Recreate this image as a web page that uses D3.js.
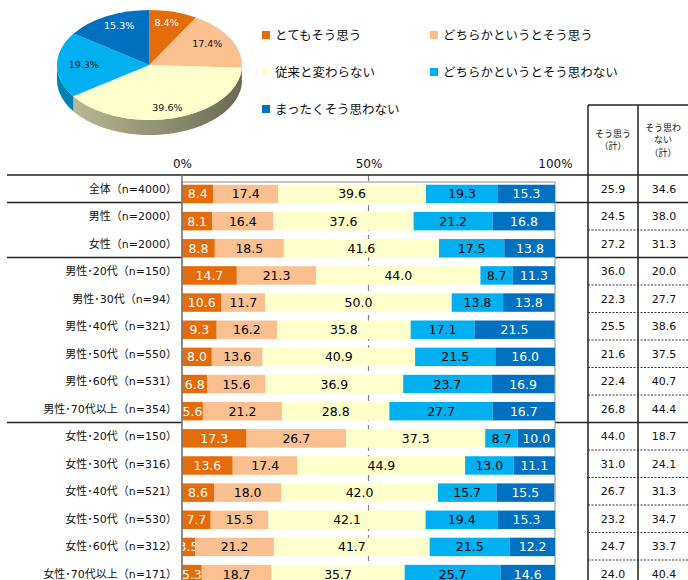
<!DOCTYPE html>
<html>
<head>
<meta charset="utf-8">
<script src="https://cdn.jsdelivr.net/npm/d3@7"></script>
<style>
  body { margin: 0; background: #fff; }
  svg { display: block; }
</style>
</head>
<body>
<script>
// row labels (top to bottom)
var rows = ["全体（n=4000）", "男性（n=2000）", "女性（n=2000）",
  "男性･20代（n=150）", "男性･30代（n=94）", "男性･40代（n=321）", "男性･50代（n=550）", "男性･60代（n=531）", "男性･70代以上（n=354）",
  "女性･20代（n=150）", "女性･30代（n=316）", "女性･40代（n=521）", "女性･50代（n=530）", "女性･60代（n=312）", "女性･70代以上（n=171）"];

var seriesNames = ["とてもそう思う", "どちらかというとそう思う", "従来と変わらない", "どちらかというとそう思わない", "まったくそう思わない"];
var veryAgree      = [8.4, 8.1, 8.8, 14.7, 10.6, 9.3, 8.0, 6.8, 5.6, 17.3, 13.6, 8.6, 7.7, 3.5, 5.3];
var ratherAgree    = [17.4, 16.4, 18.5, 21.3, 11.7, 16.2, 13.6, 15.6, 21.2, 26.7, 17.4, 18.0, 15.5, 21.2, 18.7];
var noChange       = [39.6, 37.6, 41.6, 44.0, 50.0, 35.8, 40.9, 36.9, 28.8, 37.3, 44.9, 42.0, 42.1, 41.7, 35.7];
var ratherDisagree = [19.3, 21.2, 17.5, 8.7, 13.8, 17.1, 21.5, 23.7, 27.7, 8.7, 13.0, 15.7, 19.4, 21.5, 25.7];
var notAtAll       = [15.3, 16.8, 13.8, 11.3, 13.8, 21.5, 16.0, 16.9, 16.7, 10.0, 11.1, 15.5, 15.3, 12.2, 14.6];

// right-hand table
var agreeTotal    = [25.9, 24.5, 27.2, 36.0, 22.3, 25.5, 21.6, 22.4, 26.8, 44.0, 31.0, 26.7, 23.2, 24.7, 24.0];
var disagreeTotal = [34.6, 38.0, 31.3, 20.0, 27.7, 38.6, 37.5, 40.7, 44.4, 18.7, 24.1, 31.3, 34.7, 33.7, 40.4];

// pie (全体)
var pieValues = [8.4, 17.4, 39.6, 19.3, 15.3];
var tickValues = [0, 50, 100];
var groupStarts = [1, 3, 9]; // rows that begin a new block

var colors = ["#E46C0A", "#FAC090", "#FFFFCC", "#00B0F0", "#0070C0"];
var textColors = ["#fff", "#000", "#000", "#000", "#fff"];
var FONT = '"DejaVu Sans", "Noto Sans CJK JP", sans-serif';

var width = 688, height = 580;
var svg = d3.select("body").append("svg")
    .attr("width", width)
    .attr("height", height)
    .style("font-family", FONT);

var defs = svg.append("defs");

// ---------- pie ----------
var cx = 149.5, cy = 65, rx = 92.5, ry = 55, depth = 15;
var pie = d3.pie().sort(null).value(function(d) { return d; });
var arcs = pie(pieValues);

var shade = defs.append("linearGradient").attr("id", "sideShade")
    .attr("gradientUnits", "userSpaceOnUse")
    .attr("x1", cx - rx).attr("x2", cx + rx).attr("y1", 0).attr("y2", 0);
shade.append("stop").attr("offset", "0%").attr("stop-color", "#000").attr("stop-opacity", 0);
shade.append("stop").attr("offset", "100%").attr("stop-color", "#000").attr("stop-opacity", 0.45);

function ellPoint(a, off) {
  return [cx + rx * Math.sin(a), cy - ry * Math.cos(a) + off];
}

var sideLine = d3.line();
arcs.forEach(function(d, i) {
  var s = Math.max(d.startAngle, Math.PI / 2), e = Math.min(d.endAngle, Math.PI * 3 / 2);
  if (e <= s) return;
  var angles = d3.range(s, e, 0.02).concat([e]);
  var pts = angles.map(function(a) { return ellPoint(a, 0); })
    .concat(angles.slice().reverse().map(function(a) { return ellPoint(a, depth); }));
  svg.append("path").attr("d", sideLine(pts) + "Z")
    .attr("fill", d3.color(colors[i]).darker(0.8));
  svg.append("path").attr("d", sideLine(pts) + "Z")
    .attr("fill", "url(#sideShade)");
});

var arc = d3.arc().innerRadius(0).outerRadius(rx);
svg.append("g")
    .attr("transform", "translate(" + cx + "," + cy + ") scale(1," + (ry / rx) + ")")
  .selectAll("path")
  .data(arcs)
  .enter().append("path")
    .attr("d", arc)
    .attr("fill", function(d, i) { return colors[i]; });

svg.selectAll(".pielabel")
  .data(arcs)
  .enter().append("text")
    .attr("class", "pielabel")
    .attr("x", function(d) { var m = (d.startAngle + d.endAngle) / 2; return cx + 0.71 * rx * Math.sin(m); })
    .attr("y", function(d) { var m = (d.startAngle + d.endAngle) / 2; return cy - 0.8 * ry * Math.cos(m); })
    .attr("dy", "0.35em")
    .attr("text-anchor", "middle")
    .attr("font-size", 9.5)
    .attr("fill", function(d, i) { return i == 0 || i == 4 ? "#fff" : "#111"; })
    .text(function(d) { return d.data.toFixed(1) + "%"; });

// ---------- legend ----------
var legend = svg.selectAll(".legend")
  .data(seriesNames)
  .enter().append("g")
    .attr("class", "legend")
    .attr("transform", function(d, i) {
      return "translate(" + (262 + (i % 2) * 168) + "," + (35 + Math.floor(i / 2) * 37) + ")";
    });
legend.append("rect")
    .attr("x", 0).attr("y", -4).attr("width", 8).attr("height", 8)
    .attr("fill", function(d, i) { return colors[i]; });
legend.append("text")
    .attr("x", 13).attr("dy", "0.36em")
    .attr("font-size", 12.5)
    .attr("font-family", '"Noto Sans CJK JP", sans-serif')
    .attr("fill", "#111")
    .text(function(d) { return d; });

// ---------- scales ----------
var x = d3.scaleLinear().domain([0, 100]).range([182, 555]);
var yBar = d3.scaleBand().domain(rows).range([180.4, 180.4 + 15 * 27.15]).paddingInner(0.32).paddingOuter(0.16);
var yCell = d3.scaleBand().domain(rows).range([175, 175 + 15 * 27.5]);

// separators (behind plot area)
groupStarts.forEach(function(r) {
  var yy = yCell(rows[r]);
  svg.append("line").attr("x1", 7).attr("x2", 182).attr("y1", yy).attr("y2", yy)
    .attr("stroke", "#222").attr("stroke-width", 1.5);
  svg.append("line").attr("x1", 555).attr("x2", 688).attr("y1", yy).attr("y2", yy)
    .attr("stroke", "#222").attr("stroke-width", 1.5);
});
rows.forEach(function(r, i) {
  if (i == 0 || groupStarts.indexOf(i) >= 0) return;
  var yy = yCell(r);
  svg.append("line").attr("x1", 588).attr("x2", 688).attr("y1", yy).attr("y2", yy)
    .attr("stroke", "#333").attr("stroke-width", 1).attr("stroke-dasharray", "2,1.5");
});

// plot area
svg.append("rect")
    .attr("x", x(0)).attr("y", 182).attr("width", x(100) - x(0)).attr("height", height - 182)
    .attr("fill", "#fff").attr("stroke", "#8c8c8c").attr("stroke-width", 1);

svg.append("line")
    .attr("x1", x(50)).attr("x2", x(50)).attr("y1", 175).attr("y2", height)
    .attr("stroke", "#808080").attr("stroke-width", 1.2).attr("stroke-dasharray", "6,4");

// top line across the whole chart
svg.append("line").attr("x1", 7).attr("x2", 688).attr("y1", 175).attr("y2", 175)
    .attr("stroke", "#222").attr("stroke-width", 1.5);

// x axis labels
var xAxis = svg.append("g")
    .attr("transform", "translate(0,175)")
    .call(d3.axisTop(x).tickValues(tickValues).tickFormat(function(d) { return d + "%"; }).tickSize(0).tickPadding(7.5));
xAxis.select(".domain").remove();
xAxis.selectAll("text").attr("font-size", 12).attr("font-family", FONT).attr("fill", "#111");

// ---------- bars ----------
var table = rows.map(function(r, i) {
  return { row: r, vals: [veryAgree[i], ratherAgree[i], noChange[i], ratherDisagree[i], notAtAll[i]] };
});
var stack = d3.stack().keys([0, 1, 2, 3, 4]).value(function(d, k) { return d.vals[k]; });
var layers = stack(table);

defs.append("clipPath").attr("id", "plotClip")
  .append("rect").attr("x", x(0)).attr("y", 175).attr("width", x(100) - x(0)).attr("height", height);

var barG = svg.append("g").attr("clip-path", "url(#plotClip)");
var layerG = barG.selectAll(".layer")
  .data(layers)
  .enter().append("g")
    .attr("class", "layer");

layerG.selectAll("rect")
  .data(function(d) { return d; })
  .enter().append("rect")
    .attr("x", function(d) { return x(d[0]); })
    .attr("y", function(d) { return yBar(d.data.row); })
    .attr("width", function(d) { return x(d[1]) - x(d[0]); })
    .attr("height", yBar.bandwidth())
    .attr("fill", function(d) { return colors[d3.select(this.parentNode).datum().key]; });

layerG.selectAll("text")
  .data(function(d) { return d; })
  .enter().append("text")
    .attr("x", function(d) { return (x(d[0]) + x(d[1])) / 2; })
    .attr("y", function(d) { return yBar(d.data.row) + yBar.bandwidth() / 2; })
    .attr("dy", "0.36em")
    .attr("text-anchor", "middle")
    .attr("font-size", 12.5)
    .attr("fill", function(d) { return textColors[d3.select(this.parentNode).datum().key]; })
    .text(function(d) { return (d[1] - d[0]).toFixed(1); });

// left axis line
svg.append("line").attr("x1", x(0)).attr("x2", x(0)).attr("y1", 175).attr("y2", height)
    .attr("stroke", "#777").attr("stroke-width", 1.5);

// row labels
svg.selectAll(".rowlabel")
  .data(rows)
  .enter().append("text")
    .attr("class", "rowlabel")
    .attr("x", 177)
    .attr("y", function(d) { return yCell(d) + yCell.bandwidth() / 2; })
    .attr("dy", "0.36em")
    .attr("text-anchor", "end")
    .attr("font-size", 11)
    .attr("fill", "#111")
    .text(function(d) { return d; });

// ---------- table ----------
svg.append("line").attr("x1", 588).attr("x2", 688).attr("y1", 105).attr("y2", 105)
    .attr("stroke", "#222").attr("stroke-width", 1.5);
[588, 638].forEach(function(xx) {
  svg.append("line").attr("x1", xx).attr("x2", xx).attr("y1", 105).attr("y2", height)
    .attr("stroke", "#222").attr("stroke-width", 1.5);
});

var headers = [["そう思う", "（計）"], ["そう思わ", "ない", "（計）"]];
headers.forEach(function(lines, c) {
  var cxh = c == 0 ? 613 : 663;
  var top = 140 - (lines.length - 1) * 12.5 / 2;
  lines.forEach(function(t, j) {
    svg.append("text")
      .attr("x", cxh).attr("y", top + j * 12.5)
      .attr("dy", "0.36em")
      .attr("text-anchor", "middle")
      .attr("font-size", 9)
      .attr("font-family", '"Noto Sans CJK JP", sans-serif')
      .attr("fill", "#111")
      .text(t);
  });
});

[agreeTotal, disagreeTotal].forEach(function(vals, c) {
  svg.selectAll(".tv" + c)
    .data(vals)
    .enter().append("text")
      .attr("class", "tv" + c)
      .attr("x", c == 0 ? 613 : 664)
      .attr("y", function(d, i) { return yCell(rows[i]) + yCell.bandwidth() / 2; })
      .attr("dy", "0.36em")
      .attr("text-anchor", "middle")
      .attr("font-size", 11)
      .attr("fill", "#111")
      .text(function(d) { return d.toFixed(1); });
});
</script>
</body>
</html>
